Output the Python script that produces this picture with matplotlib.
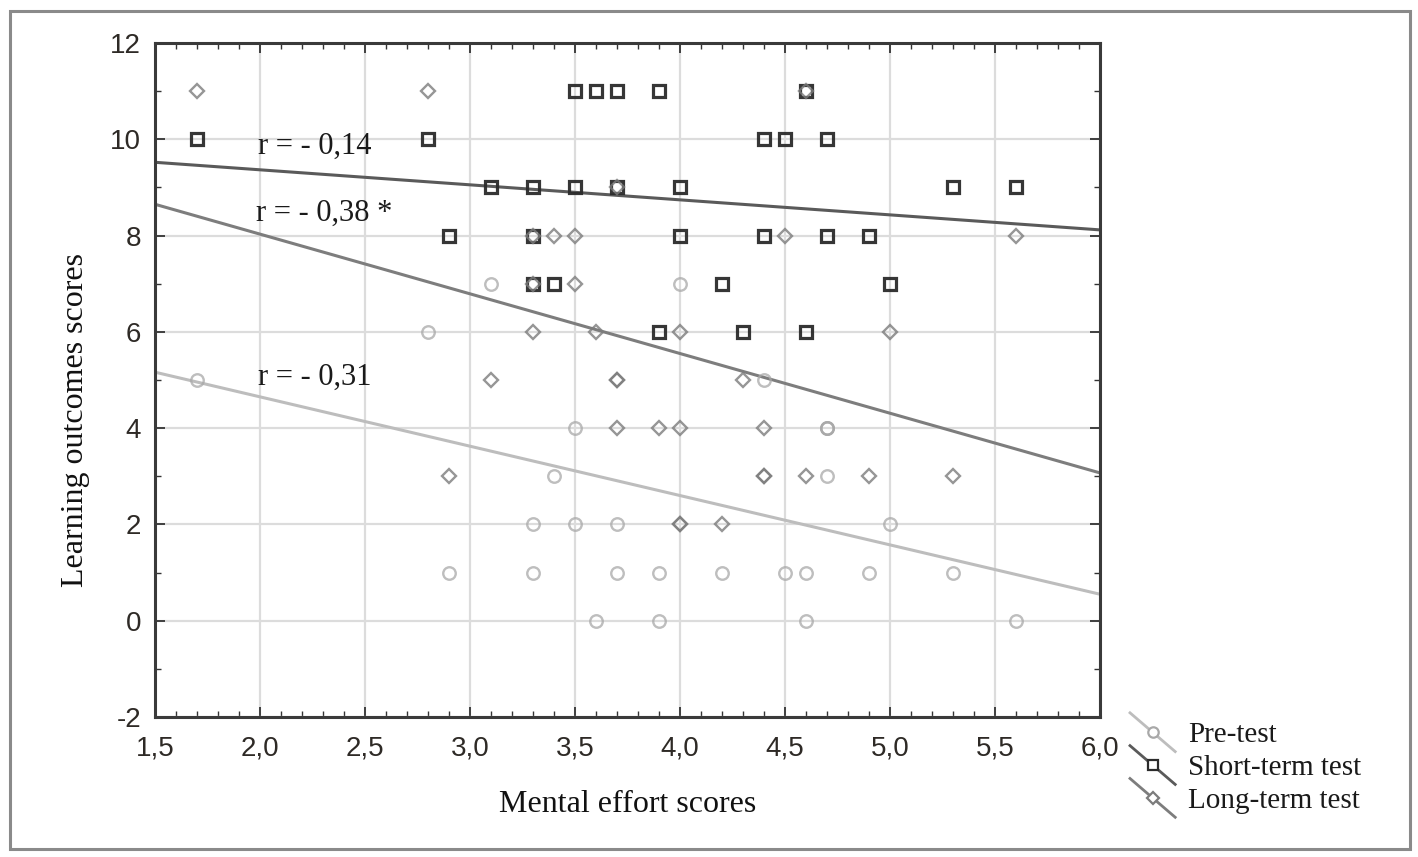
import matplotlib
matplotlib.use("Agg")
import matplotlib.pyplot as plt
from matplotlib.lines import Line2D
from matplotlib.patches import Rectangle
from matplotlib.legend_handler import HandlerBase
import numpy as np

# ---------------- data ----------------
pre_x = [1.7, 2.8, 3.1, 4.0, 4.4, 3.5, 4.7, 4.7, 4.7, 3.4, 4.7, 3.3, 3.5, 3.7, 5.0,
         2.9, 3.3, 3.7, 3.9, 4.2, 4.5, 4.6, 4.9, 5.3, 3.6, 3.9, 4.6, 5.6]
pre_y = [5, 6, 7, 7, 5, 4, 4, 4, 4, 3, 3, 2, 2, 2, 2,
         1, 1, 1, 1, 1, 1, 1, 1, 1, 0, 0, 0, 0]

short_x = [3.5, 3.6, 3.7, 3.9, 4.6,
           1.7, 2.8, 4.4, 4.5, 4.7,
           3.1, 3.3, 3.5, 3.7, 4.0, 5.3, 5.6,
           2.9, 3.3, 4.0, 4.4, 4.7, 4.9,
           3.3, 3.4, 4.2, 5.0,
           3.9, 4.3, 4.6]
short_y = [11, 11, 11, 11, 11,
           10, 10, 10, 10, 10,
           9, 9, 9, 9, 9, 9, 9,
           8, 8, 8, 8, 8, 8,
           7, 7, 7, 7,
           6, 6, 6]

long_x = [1.7, 2.8, 4.6, 3.7,
          3.3, 3.4, 3.5, 4.5, 5.6,
          3.3, 3.5,
          3.3, 3.6, 4.0, 5.0,
          3.1, 3.7, 3.7, 4.3,
          3.7, 3.9, 4.0, 4.4,
          2.9, 4.4, 4.4, 4.6, 4.9, 5.3,
          4.0, 4.0, 4.2]
long_y = [11, 11, 11, 9,
          8, 8, 8, 8, 8,
          7, 7,
          6, 6, 6, 6,
          5, 5, 5, 5,
          4, 4, 4, 4,
          3, 3, 3, 3, 3, 3,
          2, 2, 2]

series_names = ["Pre-test", "Short-term test", "Long-term test"]
# regression lines: intercept (at x=0) and slope
fit_intercepts = [6.70, 9.99, 10.51]
fit_slopes = [-1.025, -0.312, -1.240]
r_labels = ["r = - 0,31", "r = - 0,14", "r = - 0,38 *"]
r_label_x = [1.99, 1.99, 1.98]
r_label_y = [5.06, 9.86, 8.47]

x_ticks = [1.5, 2.0, 2.5, 3.0, 3.5, 4.0, 4.5, 5.0, 5.5, 6.0]
x_tick_labels = ["1,5", "2,0", "2,5", "3,0", "3,5", "4,0", "4,5", "5,0", "5,5", "6,0"]
y_ticks = [-2, 0, 2, 4, 6, 8, 10, 12]
y_tick_labels = ["-2", "0", "2", "4", "6", "8", "10", "12"]

# ---------------- style ----------------
marker_colors = ["#a8a8a8", "#2b2b2b", "#7c7c7c"]
line_colors = ["#bdbdbd", "#5a5a5a", "#7d7d7d"]
markers = ["o", "s", "D"]
msizes = [9, 8.5, 7.5]
tick_font = ["Liberation Sans Narrow", "Liberation Sans", "DejaVu Sans"]
serif_font = ["Liberation Serif", "DejaVu Serif"]

fig = plt.figure(figsize=(14.18, 8.57), dpi=100)
fig.patch.set_facecolor("white")
ax = fig.add_axes([155 / 1418, 1 - 717 / 857, 945 / 1418, 674 / 857])

# outer frame
fig.add_artist(Rectangle((10 / 1418, 1 - 849 / 857), 1400 / 1418, 838 / 857,
                         transform=fig.transFigure, fill=False,
                         edgecolor="#8a8a8a", linewidth=2.2))

ax.set_xlim(1.5, 6.0)
ax.set_ylim(-2, 12)
ax.set_xticks(x_ticks)
ax.set_xticklabels(x_tick_labels)
ax.set_yticks(y_ticks)
ax.set_yticklabels(y_tick_labels)
ax.set_xticks(np.arange(1.5, 6.001, 0.1), minor=True)
ax.set_yticks(np.arange(-2, 12.01, 1), minor=True)
ax.grid(True, which="major", color="#dcdcdc", linewidth=1.6)
ax.set_axisbelow(True)
ax.tick_params(which="both", direction="in", top=True, right=True, color="#333333")
ax.tick_params(which="major", length=7, width=1.3, pad=10)
ax.tick_params(which="minor", length=4, width=1.0)
ax.tick_params(axis="x", which="major", pad=13)
for lbl in ax.get_xticklabels() + ax.get_yticklabels():
    lbl.set_fontfamily(tick_font)
    lbl.set_fontsize(20)
    lbl.set_color("#2e2a26")
for sp in ax.spines.values():
    sp.set_color("#3a3a3a")
    sp.set_linewidth(2.2)

xs = [pre_x, short_x, long_x]
ys = [pre_y, short_y, long_y]
alphas = [0.75, 0.95, 0.8]
handles = []
for i in range(3):
    ax.plot(xs[i], ys[i], linestyle="none", marker=markers[i], markersize=msizes[i],
            markerfacecolor="none", markeredgecolor=marker_colors[i],
            markeredgewidth=2.3 if i == 1 else 1.7, alpha=alphas[i], zorder=3 + i)
    xl = np.array(ax.get_xlim())
    ax.plot(xl, fit_intercepts[i] + fit_slopes[i] * xl, color=line_colors[i],
            linewidth=2.2, zorder=2, solid_capstyle="butt")
    handles.append(Line2D([], [], color=line_colors[i], marker=markers[i],
                          markersize=msizes[i] - 1.5, markerfacecolor="none",
                          markeredgecolor=marker_colors[i], linewidth=2.0))

# r annotations
for tx, ty, txt in zip(r_label_x, r_label_y, r_labels):
    ax.text(tx, ty, txt, fontsize=22, fontfamily=serif_font, color="#1a1a1a",
            va="center", ha="left", zorder=6)

ax.set_xlabel("Mental effort scores", fontsize=23, fontfamily=serif_font,
              color="#111111")
ax.xaxis.set_label_coords((628 - 155) / 945, -(805 - 717) / 674)
ax.set_ylabel("Learning outcomes scores", fontsize=23, fontfamily=serif_font,
              color="#111111")
ax.yaxis.set_label_coords((75 - 155) / 945, 1 - (420 - 43) / 674)
ax.xaxis.label.set_verticalalignment("center")
ax.yaxis.label.set_verticalalignment("center")


class DiagHandler(HandlerBase):
    def create_artists(self, legend, orig_handle, xdescent, ydescent, width,
                       height, fontsize, trans):
        x0, x1 = -xdescent, -xdescent + width
        y0, y1 = -ydescent + height * 1.45, -ydescent - height * 0.45
        ln = Line2D([x0, x1], [y0, y1], color=orig_handle.get_color(),
                    linewidth=orig_handle.get_linewidth(), transform=trans)
        mk = Line2D([(x0 + x1) / 2], [(y0 + y1) / 2],
                    marker=orig_handle.get_marker(),
                    markersize=orig_handle.get_markersize(),
                    markerfacecolor="white",
                    markeredgecolor=orig_handle.get_markeredgecolor(),
                    markeredgewidth=1.6, linestyle="none", transform=trans)
        return [ln, mk]


leg = fig.legend(handles, series_names, handler_map={Line2D: DiagHandler()},
                 loc="upper left", bbox_to_anchor=(1130 / 1418, 1 - 722 / 857),
                 frameon=False, prop={"family": serif_font, "size": 21},
                 handlelength=1.55, handletextpad=0.45, labelspacing=0.22,
                 borderpad=0.0, borderaxespad=0.0)
for t in leg.get_texts():
    t.set_color("#1a1a1a")

fig.savefig("out.png", dpi=100, facecolor="white")
